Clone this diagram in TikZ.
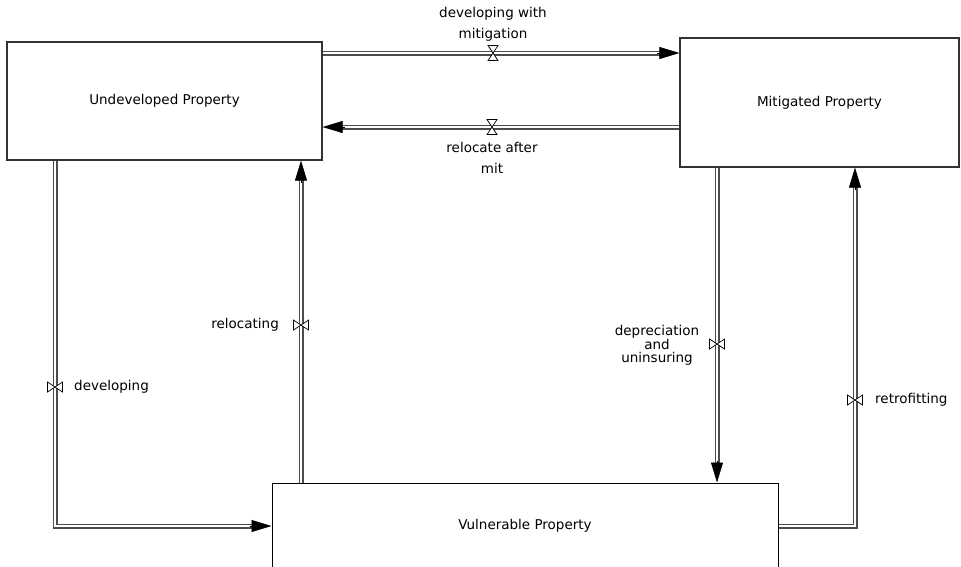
\documentclass[tikz,border=0pt]{standalone}
\usepackage{fontspec}
\setmainfont{DejaVu Sans}
\usetikzlibrary{arrows.meta,calc}

\tikzset{
  stock/.style={draw=black!80, line width=1.2pt, fill=white, inner sep=0pt,
    font=\fontsize{13.5}{16}\selectfont},
  pipe/.style={draw=black!70, line width=1.3pt, double=white, double distance=2.4pt},
  pipetip/.style={draw=black, line width=0.6pt,
    -{Triangle[length=20pt,width=12pt]}},
  lbl/.style={font=\fontsize{13.5}{16}\selectfont, inner sep=0pt},
  valveshape/.style={draw=black, line width=0.7pt, fill=white},
  hvalve/.pic={\draw[valveshape] (-5,-7.5) -- (5,-7.5) -- (-5,7.5) -- (5,7.5) -- cycle;},
  vvalve/.pic={\draw[valveshape] (-7.5,-5) -- (-7.5,5) -- (7.5,-5) -- (7.5,5) -- cycle;}
}

\begin{document}
\begin{tikzpicture}[x=1pt, y=-1pt]
  \useasboundingbox (0,0) rectangle (961,566);
  \clip (0,0) rectangle (961,566);

  % stocks
  \node[stock, minimum width=315pt, minimum height=118pt] (U) at (164.5,101) {Undeveloped Property};
  \node[stock, minimum width=279pt, minimum height=129pt] (M) at (819.5,102.5) {Mitigated Property};
  \node[stock, draw=black, line width=1pt, minimum width=506pt, minimum height=86pt] (V) at (525,526) {Vulnerable Property};

  % valve positions
  \coordinate (v1) at (493,53);
  \coordinate (v2) at (492,127);
  \coordinate (v3) at (55,387);
  \coordinate (v4) at (301,325);
  \coordinate (v5) at (717,344);
  \coordinate (v6) at (855,400);
  % pipe corners
  \coordinate (c3) at (55,526);
  \coordinate (c6) at (855,526);

  % developing with mitigation
  \draw[pipe] (U.east |- v1) -- ($(M.west |- v1)+(-18,0)$);
  \draw[pipetip] ($(M.west |- v1)+(-22,0)$) -- (M.west |- v1);
  % relocate after mit
  \draw[pipe] (M.west |- v2) -- ($(U.east |- v2)+(18,0)$);
  \draw[pipetip] ($(U.east |- v2)+(22,0)$) -- (U.east |- v2);
  % developing
  \draw[pipe] (U.south -| v3) -- (c3) -- ($(V.west |- c3)+(-18,0)$);
  \draw[pipetip] ($(V.west |- c3)+(-22,0)$) -- (V.west |- c3);
  % relocating
  \draw[pipe] (V.north -| v4) -- ($(U.south -| v4)+(0,18)$);
  \draw[pipetip] ($(U.south -| v4)+(0,22)$) -- (U.south -| v4);
  % depreciation and uninsuring
  \draw[pipe] (M.south -| v5) -- ($(V.north -| v5)+(0,-18)$);
  \draw[pipetip] ($(V.north -| v5)+(0,-22)$) -- (V.north -| v5);
  % retrofitting
  \draw[pipe] (V.east |- c6) -- (c6) -- ($(M.south -| v6)+(0,18)$);
  \draw[pipetip] ($(M.south -| v6)+(0,22)$) -- (M.south -| v6);

  % valves
  \pic at (v1) {hvalve};
  \pic at (v2) {hvalve};
  \pic at (v3) {vvalve};
  \pic at (v4) {vvalve};
  \pic at (v5) {vvalve};
  \pic at (v6) {vvalve};

  % flow labels
  \node[lbl, align=center] (l1) at (493,24.5) {developing with\\[5pt]mitigation};
  \node[lbl, align=center] (l2) at (492,157.5) {relocate after\\[5pt]mit};
  \node[lbl, anchor=west] (l3) at (74,387) {developing};
  \node[lbl, anchor=east] (l4) at (279,325) {relocating};
  \node[lbl, align=center, font=\fontsize{13.5}{13}\selectfont] (l5) at (657,345) {depreciation\\and\\uninsuring};
  \node[lbl, anchor=west] (l6) at (875,400) {retrofitting};
\end{tikzpicture}
\end{document}
